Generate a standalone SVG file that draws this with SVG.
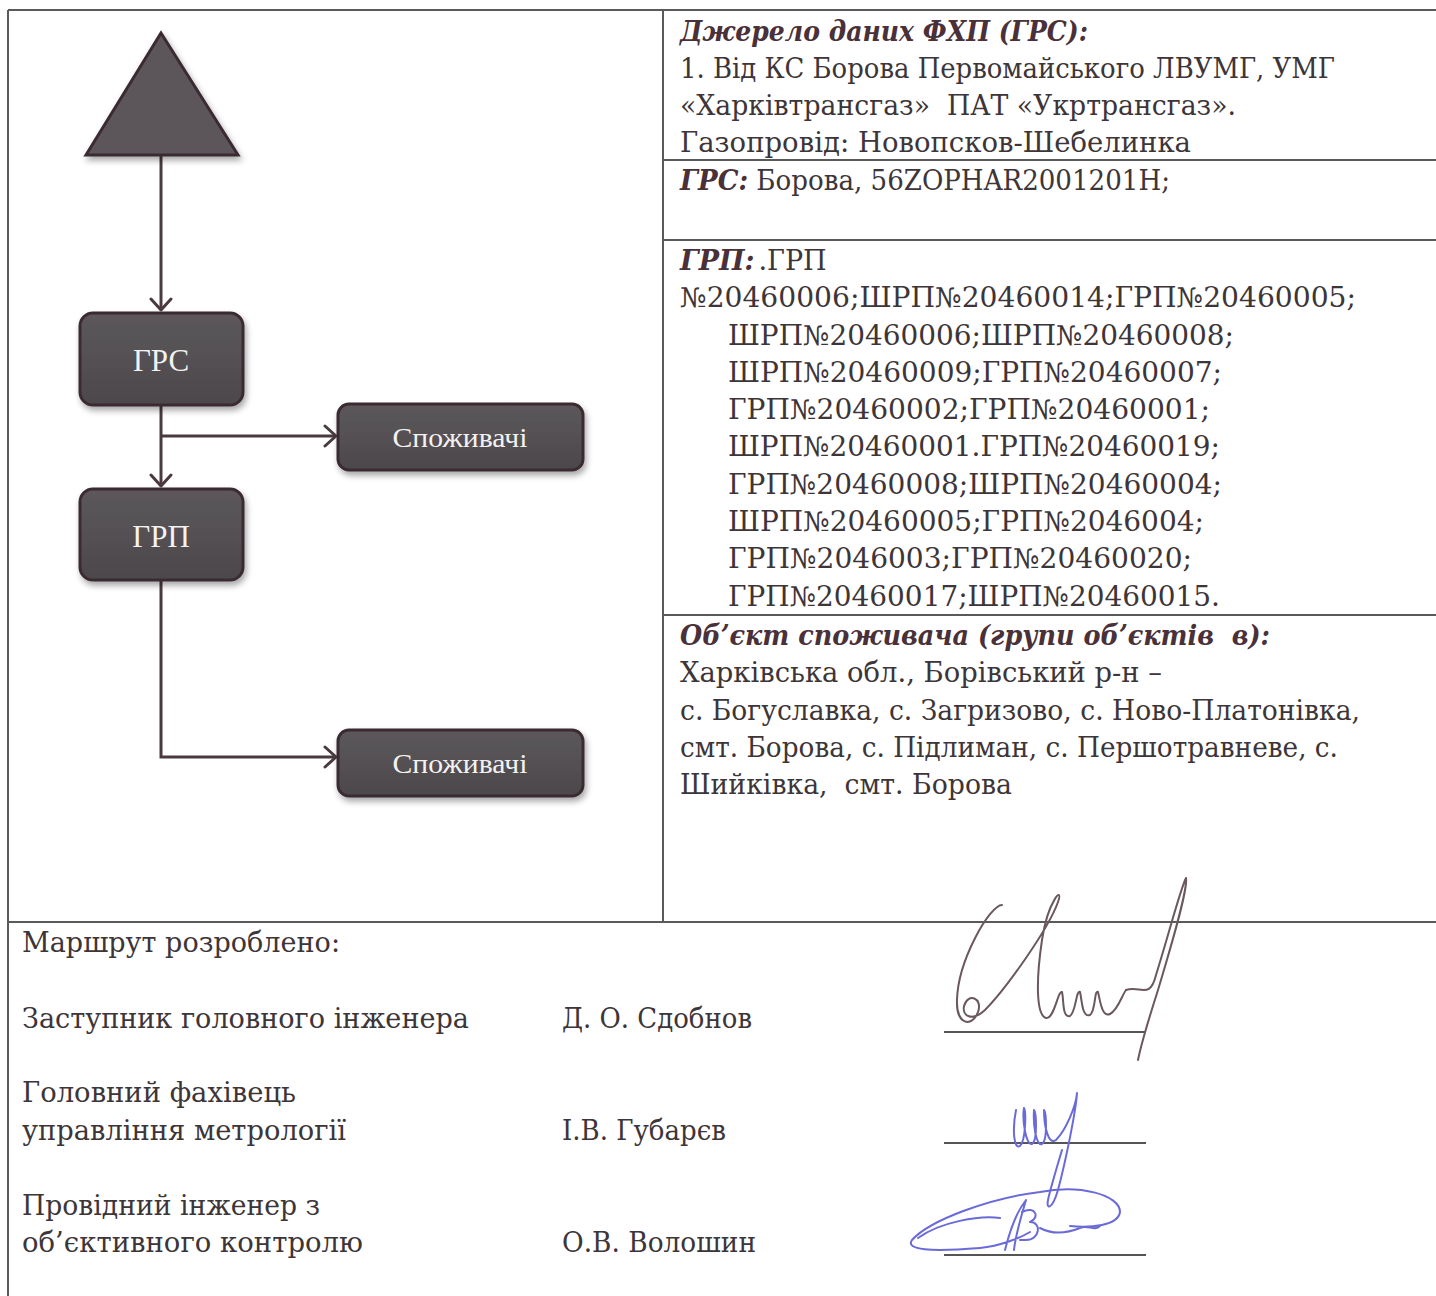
<svg xmlns="http://www.w3.org/2000/svg" width="1436" height="1296" viewBox="0 0 1436 1296">
<defs>
<linearGradient id="boxg" x1="0" y1="0" x2="0" y2="1">
<stop offset="0" stop-color="#5c585b"/>
<stop offset="1" stop-color="#4c484b"/>
</linearGradient>
<filter id="sh" x="-20%" y="-20%" width="140%" height="150%">
<feDropShadow dx="2" dy="4" stdDeviation="3" flood-color="#000" flood-opacity="0.35"/>
</filter>
<marker id="arr" markerUnits="userSpaceOnUse" markerWidth="26" markerHeight="26" refX="13" refY="13" orient="auto">
<path d="M2,3 L13,13 L2,23" fill="none" stroke="#4a3a40" stroke-width="3" stroke-linecap="round" stroke-linejoin="round"/>
</marker>
</defs>
<style>
.grid{stroke:#5a5a5a;stroke-width:2;fill:none}
.box{fill:url(#boxg);stroke:#3a2c32;stroke-width:3;filter:url(#sh)}
.lbl{font-family:"Liberation Serif","DejaVu Serif",serif;fill:#f2f2f2;text-anchor:middle}
.con{fill:none;stroke:#4a3a40;stroke-width:3}
.t{font-family:"DejaVu Serif","Liberation Serif",serif;font-size:27px;fill:#3d3538;white-space:pre}
.bi{font-family:"DejaVu Serif","Liberation Serif",serif;font-size:27px;font-weight:bold;font-style:italic;fill:#4a3038;white-space:pre}
.sig1{fill:none;stroke:#6a585e;stroke-width:2;stroke-linecap:round;stroke-linejoin:round}
.sig2{fill:none;stroke:#6a6ad8;stroke-width:2;stroke-linecap:round;stroke-linejoin:round}
.sl{stroke:#555;stroke-width:2}
</style>
<rect width="1436" height="1296" fill="#ffffff"/>

<g id="table">
<line class="grid" x1="8" y1="10" x2="1436" y2="10"/>
<line class="grid" x1="8" y1="10" x2="8" y2="1296"/>
<line class="grid" x1="663" y1="10" x2="663" y2="922"/>
<line class="grid" x1="663" y1="160" x2="1436" y2="160"/>
<line class="grid" x1="663" y1="240" x2="1436" y2="240"/>
<line class="grid" x1="663" y1="615" x2="1436" y2="615"/>
<line class="grid" x1="8" y1="922" x2="1436" y2="922"/>
</g>

<g id="connectors">
<line class="con" x1="161" y1="155" x2="161" y2="310" marker-end="url(#arr)"/>
<line class="con" x1="161" y1="405" x2="161" y2="486" marker-end="url(#arr)"/>
<polyline class="con" points="161,436 336,436" marker-end="url(#arr)"/>
<polyline class="con" points="161,580 161,757 336,757" marker-end="url(#arr)"/>
</g>

<g id="source">
<polygon points="161,33 86,155 238,155" fill="#5c575a" stroke="#3a2c32" stroke-width="3" stroke-linejoin="miter" filter="url(#sh)"/>
</g>
<g id="grs">
<rect class="box" x="80" y="313" width="163" height="92" rx="13"/>
<text class="lbl" x="161" y="371" font-size="31">ГРС</text>
</g>
<g id="consumers1">
<rect class="box" x="338" y="404" width="245" height="66" rx="11"/>
<text class="lbl" x="460" y="447" font-size="27" textLength="135" lengthAdjust="spacingAndGlyphs">Споживачі</text>
</g>
<g id="grp">
<rect class="box" x="80" y="489" width="163" height="91" rx="13"/>
<text class="lbl" x="161" y="547" font-size="31">ГРП</text>
</g>
<g id="consumers2">
<rect class="box" x="338" y="730" width="245" height="66" rx="11"/>
<text class="lbl" x="460" y="773" font-size="27" textLength="135" lengthAdjust="spacingAndGlyphs">Споживачі</text>
</g>

<g id="info">
<text class="bi" x="680" y="41" textLength="408" lengthAdjust="spacingAndGlyphs">Джерело даних ФХП (ГРС):</text>
<text class="t" x="680" y="78" textLength="655" lengthAdjust="spacingAndGlyphs">1. Від КС Борова Первомайського ЛВУМГ, УМГ</text>
<text class="t" x="680" y="115" textLength="556" lengthAdjust="spacingAndGlyphs" xml:space="preserve">«Харківтрансгаз»  ПАТ «Укртрансгаз».</text>
<text class="t" x="680" y="152" textLength="511" lengthAdjust="spacingAndGlyphs">Газопровід: Новопсков-Шебелинка</text>
<text class="t" x="680" y="190" textLength="490" lengthAdjust="spacingAndGlyphs"><tspan class="bi">ГРС:</tspan> Борова, 56ZOPHAR2001201H;</text>
<text class="t" x="680" y="270"><tspan class="bi">ГРП:</tspan><tspan dx="4">.ГРП</tspan></text>
<text class="t" x="680" y="307" textLength="676" lengthAdjust="spacingAndGlyphs">№20460006;ШРП№20460014;ГРП№20460005;</text>
<text class="t" x="728" y="345" textLength="506" lengthAdjust="spacingAndGlyphs">ШРП№20460006;ШРП№20460008;</text>
<text class="t" x="728" y="382" textLength="494" lengthAdjust="spacingAndGlyphs">ШРП№20460009;ГРП№20460007;</text>
<text class="t" x="728" y="419" textLength="482" lengthAdjust="spacingAndGlyphs">ГРП№20460002;ГРП№20460001;</text>
<text class="t" x="728" y="456" textLength="492" lengthAdjust="spacingAndGlyphs">ШРП№20460001.ГРП№20460019;</text>
<text class="t" x="728" y="494" textLength="494" lengthAdjust="spacingAndGlyphs">ГРП№20460008;ШРП№20460004;</text>
<text class="t" x="728" y="531" textLength="476" lengthAdjust="spacingAndGlyphs">ШРП№20460005;ГРП№2046004;</text>
<text class="t" x="728" y="568" textLength="464" lengthAdjust="spacingAndGlyphs">ГРП№2046003;ГРП№20460020;</text>
<text class="t" x="728" y="606" textLength="492" lengthAdjust="spacingAndGlyphs">ГРП№20460017;ШРП№20460015.</text>
<text class="bi" x="680" y="645" textLength="590" lengthAdjust="spacingAndGlyphs" xml:space="preserve">Об’єкт споживача (групи об’єктів  в):</text>
<text class="t" x="680" y="682" textLength="482" lengthAdjust="spacingAndGlyphs">Харківська обл., Борівський р-н –</text>
<text class="t" x="680" y="720" textLength="680" lengthAdjust="spacingAndGlyphs">с. Богуславка, с. Загризово, с. Ново-Платонівка,</text>
<text class="t" x="680" y="757" textLength="658" lengthAdjust="spacingAndGlyphs">смт. Борова, с. Підлиман, с. Першотравневе, с.</text>
<text class="t" x="680" y="794" textLength="332" lengthAdjust="spacingAndGlyphs" xml:space="preserve">Шийківка,  смт. Борова</text>
</g>

<g id="approval">
<text class="t" x="22" y="952" textLength="318" lengthAdjust="spacingAndGlyphs">Маршрут розроблено:</text>
<text class="t" x="22" y="1028" textLength="447" lengthAdjust="spacingAndGlyphs">Заступник головного інженера</text>
<text class="t" x="562" y="1028" textLength="190" lengthAdjust="spacingAndGlyphs">Д. О. Сдобнов</text>
<text class="t" x="22" y="1102" textLength="274" lengthAdjust="spacingAndGlyphs">Головний фахівець</text>
<text class="t" x="22" y="1140" textLength="324" lengthAdjust="spacingAndGlyphs">управління метрології</text>
<text class="t" x="562" y="1140" textLength="164" lengthAdjust="spacingAndGlyphs">І.В. Губарєв</text>
<text class="t" x="22" y="1215" textLength="298" lengthAdjust="spacingAndGlyphs">Провідний інженер з</text>
<text class="t" x="22" y="1252" textLength="341" lengthAdjust="spacingAndGlyphs">об’єктивного контролю</text>
<text class="t" x="562" y="1252" textLength="194" lengthAdjust="spacingAndGlyphs">О.В. Волошин</text>
<line class="sl" x1="944" y1="1032" x2="1146" y2="1032"/>
<line class="sl" x1="944" y1="1143" x2="1146" y2="1143"/>
<line class="sl" x1="944" y1="1255" x2="1146" y2="1255"/>
</g>

<g id="signatures">
<path class="sig1" d="M1002,905 C990,905 958,960 957,1000 C956,1025 972,1028 978,1012 C983,998 968,992 964,1006 C962,1016 972,1022 985,1010 C1005,990 1048,930 1058,902 C1064,885 1048,900 1042,940 C1036,980 1036,1015 1046,1018 C1054,1020 1058,990 1062,992 C1064,1000 1062,1018 1070,1016 C1076,1012 1076,990 1080,992 C1082,1000 1082,1018 1090,1015 C1096,1010 1094,990 1098,992 C1100,1000 1102,1018 1110,1014 C1118,1010 1122,995 1126,990"/>
<path class="sig1" d="M1126,990 C1140,985 1150,1000 1156,975 C1170,930 1180,890 1186,878 C1188,890 1170,950 1158,990 C1150,1015 1142,1040 1138,1060"/>
<path class="sig2" d="M1016,1110 C1012,1130 1014,1150 1020,1146 C1026,1140 1026,1112 1024,1108 C1022,1120 1026,1146 1032,1144 C1038,1140 1036,1112 1034,1110 C1033,1125 1036,1146 1042,1144 C1048,1140 1046,1112 1044,1110 C1044,1125 1048,1146 1056,1140 C1066,1130 1076,1106 1077,1093 C1076,1110 1066,1160 1058,1190 C1052,1210 1046,1210 1048,1200 C1050,1190 1056,1170 1062,1150"/>
<path class="sig2" d="M1040,1192 C1080,1184 1120,1195 1120,1212 C1118,1226 1090,1228 1070,1226 M1040,1192 C990,1198 930,1220 912,1240 C905,1250 930,1252 980,1248 C1000,1246 1020,1238 1030,1232 M918,1238 C940,1222 980,1215 1000,1218 M1005,1250 C1010,1230 1018,1210 1026,1200 C1020,1220 1015,1240 1014,1250 M1022,1212 C1036,1205 1040,1218 1030,1222 C1042,1222 1040,1240 1026,1240 L1020,1240 M1040,1228 C1055,1236 1070,1232 1080,1228 C1088,1224 1094,1232 1100,1226"/>
</g>
</svg>
